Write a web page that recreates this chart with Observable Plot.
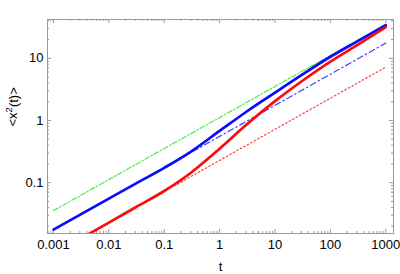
<!DOCTYPE html>
<html><head><meta charset="utf-8">
<script src="https://cdn.jsdelivr.net/npm/d3@7"></script>
<script src="https://cdn.jsdelivr.net/npm/@observablehq/plot@0.6"></script>
<style>body{margin:0;background:#fff} svg{display:block}</style>
</head><body><div id="chart"></div>
<script>
// ---- data ----
const tGreen = [0.001, 1000];
const yGreen = [0.0355, 35.0];
const tBlueFit = [0.2, 1000];
const yBlueFit = [0.2475, 17.5];
const tRedFit = [0.15, 1000];
const yRedFit = [0.0881, 7.19];
const tBlue = [0.001, 0.01, 0.03, 0.1, 0.3, 1, 3, 10, 30, 100, 300, 1000];
const yBlue = [0.0175, 0.0553, 0.0957, 0.173, 0.313, 0.678, 1.367, 2.80, 5.35, 10.57, 18.55, 33.96];
const tRed = [0.004, 0.01, 0.03, 0.1, 0.3, 1, 3, 10, 30, 100, 300, 1000];
const yRed = [0.0143, 0.0228, 0.0398, 0.0733, 0.143, 0.351, 0.843, 2.04, 4.23, 8.81, 16.1, 31.6];
const xTicks = [0.001, 0.01, 0.1, 1, 10, 100, 1000];
const xTickLabels = ["0.001", "0.01", "0.1", "1", "10", "100", "1000"];
const yTicks = [0.1, 1, 10];
const yTickLabels = ["0.1", "1", "10"];
const xLabel = "t";
const yLabelParts = ["<x", "2", "(t)>"];

// ---- layout ----
const W = 400, H = 274, mL = 47, mR = 7, mT = 19, mB = 41;
const innerW = W - mL - mR, innerH = H - mT - mB;
const xDomain = [0.00078, 1380], yDomain = [0.0152, 42];
const gray = "#999";
const font = "'Liberation Sans', Arial, Helvetica, sans-serif";
const fs = 13;

const pts = (ts, ys) => ts.map((t, i) => ({t, y: ys[i]}));
const minor = (dom) => {
  const out = [];
  for (let k = -5; k <= 4; k++) for (let m = 2; m <= 9; m++) {
    const v = m * Math.pow(10, k);
    if (v > dom[0] && v < dom[1]) out.push(v);
  }
  return out;
};
const xMinor = minor(xDomain), yMinor = minor(yDomain);
const majLen = 4, minLen = 2;

const plot = Plot.plot({
  width: W, height: H,
  marginLeft: mL, marginRight: mR, marginTop: mT, marginBottom: mB,
  style: {fontFamily: font, fontSize: fs + "px", color: "#000", background: "#fff"},
  x: {type: "log", domain: xDomain},
  y: {type: "log", domain: yDomain},
  marks: [
    Plot.axisX({ticks: xTicks, tickFormat: (d) => xTickLabels[xTicks.indexOf(d)] ?? "", tickSize: 0, tickPadding: 6, fontSize: fs, label: null}),
    Plot.axisY({ticks: yTicks, tickFormat: (d) => yTickLabels[yTicks.indexOf(d)] ?? "", tickSize: 0, tickPadding: 4, fontSize: fs, label: null}),
    // ticks (inward, all four sides)
    Plot.tickX(xTicks, {x: d => d, insetTop: innerH - majLen, stroke: gray}),
    Plot.tickX(xTicks, {x: d => d, insetBottom: innerH - majLen, stroke: gray}),
    Plot.tickX(xMinor, {x: d => d, insetTop: innerH - minLen, stroke: gray}),
    Plot.tickX(xMinor, {x: d => d, insetBottom: innerH - minLen, stroke: gray}),
    Plot.tickY(yTicks, {y: d => d, insetRight: innerW - majLen, stroke: gray}),
    Plot.tickY(yTicks, {y: d => d, insetLeft: innerW - majLen, stroke: gray}),
    Plot.tickY(yMinor, {y: d => d, insetRight: innerW - minLen, stroke: gray}),
    Plot.tickY(yMinor, {y: d => d, insetLeft: innerW - minLen, stroke: gray}),
    Plot.frame({stroke: gray}),
    // curves
    Plot.line(pts(tGreen, yGreen), {x: "t", y: "y", stroke: "#4eea4e", strokeWidth: 1.2, strokeDasharray: "5,2,1.5,2"}),
    Plot.line(pts(tBlueFit, yBlueFit), {x: "t", y: "y", stroke: "#4040ff", strokeWidth: 1.2, strokeDasharray: "6,3,1.5,3"}),
    Plot.line(pts(tRedFit, yRedFit), {x: "t", y: "y", stroke: "#ff4040", strokeWidth: 1.2, strokeDasharray: "1.5,2.5"}),
    Plot.line(pts(tBlue, yBlue), {x: "t", y: "y", stroke: "#0a0aff", strokeWidth: 2.7, curve: "monotone-x", clip: true}),
    Plot.line(pts(tRed, yRed), {x: "t", y: "y", stroke: "#ff0a0a", strokeWidth: 2.7, curve: "monotone-x", clip: true}),
    // axis labels
    Plot.text([xLabel], {text: d => d, frameAnchor: "bottom", dy: 33, lineAnchor: "middle", fontSize: fs, fill: "#000"}),
    Plot.text([yLabelParts.join("")], {text: d => d, frameAnchor: "left", dx: -35, rotate: -90, lineAnchor: "middle", fontSize: fs, fill: "#000", className: "ylab"})
  ]
});
// render superscript in the y label as tspans (still real text)
d3.select(plot).selectAll(".ylab text").each(function() {
  const t = d3.select(this);
  t.text(null);
  t.append("tspan").text(yLabelParts[0]);
  t.append("tspan").attr("font-size", "9.5px").attr("dy", "-0.45em").text(yLabelParts[1]);
  t.append("tspan").attr("dy", "0.45em").text(yLabelParts[2]);
});
document.getElementById("chart").appendChild(plot);
</script>
</body></html>
